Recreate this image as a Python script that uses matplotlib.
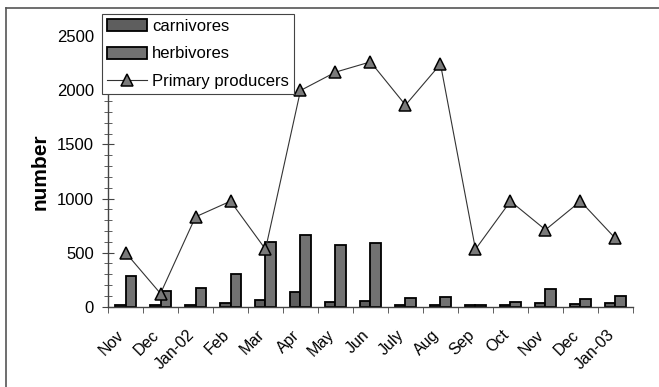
import matplotlib
matplotlib.use("Agg")
import matplotlib.pyplot as plt
from matplotlib.lines import Line2D
from matplotlib.transforms import ScaledTranslation
import numpy as np

plt.rcParams['font.family'] = ['Liberation Sans', 'DejaVu Sans']

months = ["Nov", "Dec", "Jan-02", "Feb", "Mar", "Apr", "May", "Jun", "July",
          "Aug", "Sep", "Oct", "Nov", "Dec", "Jan-03"]
carnivores = [10, 10, 10, 35, 60, 130, 40, 50, 10, 15, 12, 12, 30, 25, 35]
herbivores = [280, 145, 170, 300, 600, 660, 570, 590, 75, 90, 12, 45, 160, 70, 95]
primary_producers = [500, 120, 830, 975, 530, 2000, 2170, 2265, 1865, 2245,
                     530, 975, 710, 975, 630]

fig = plt.figure(figsize=(6.59, 3.87), dpi=100)
ax = fig.add_axes([0.1639, 0.208, 0.7966, 0.6977])

x = np.arange(len(months))
w = 0.3
bar_kw = dict(width=w, edgecolor="black", linewidth=1.3, zorder=2)
b1 = ax.bar(x - w / 2, carnivores, color="#5e5e5e", label="carnivores", **bar_kw)
b2 = ax.bar(x + w / 2, herbivores, color="#727272", label="herbivores", **bar_kw)
ln, = ax.plot(x, primary_producers, color="#333333", linewidth=0.8, marker="^",
              markersize=8, markerfacecolor="#7a7a7a", markeredgecolor="black",
              markeredgewidth=1.1, label="Primary producers", zorder=3)

ax.set_xlim(-0.5, len(months) - 0.5)
ax.set_ylim(0, 2500)

for s in ("top", "right"):
    ax.spines[s].set_visible(False)
for s in ("left", "bottom"):
    ax.spines[s].set_color("#444444")
    ax.spines[s].set_linewidth(1.0)

ax.set_yticks(np.arange(0, 2501, 500))
ax.set_yticks(np.arange(0, 2501, 100), minor=True)
ax.tick_params(axis="y", which="major", direction="inout", length=8,
               labelsize=12, pad=6, color="#444444")
ax.tick_params(axis="y", which="minor", direction="inout", length=6,
               color="#444444")

ax.set_xticks(x)
ax.set_xticklabels(months, rotation=45, ha="right", va="top",
                   rotation_mode="anchor")
ax.set_xticks(np.arange(-0.5, len(months), 1), minor=True)
ax.tick_params(axis="x", which="major", length=0, labelsize=11.5, pad=15)
ax.tick_params(axis="x", which="minor", direction="out", length=4,
               color="#444444")
for lbl in ax.get_xticklabels():
    lbl.set_transform(lbl.get_transform() +
                      ScaledTranslation(-6.5 / 72, 0, fig.dpi_scale_trans))

ax.set_ylabel("number", fontsize=15, fontweight="bold", labelpad=5)

leg = ax.legend(handles=[b1, b2, ln], loc="upper left",
                bbox_to_anchor=(102 / 659, 1 - 14 / 387),
                bbox_transform=fig.transFigure, fontsize=12, frameon=True,
                fancybox=False, edgecolor="#444444", framealpha=1,
                borderpad=0.3, labelspacing=0.75, handlelength=2.4,
                handleheight=0.7, handletextpad=0.3, borderaxespad=0)
leg.get_frame().set_linewidth(0.8)
leg.set_zorder(5)

# outer chart border (top and left edges)
fig.add_artist(Line2D([6 / 659, 1], [1 - 8 / 387, 1 - 8 / 387],
                      transform=fig.transFigure, color="#555555", linewidth=1.2))
fig.add_artist(Line2D([6 / 659, 6 / 659], [0, 1 - 8 / 387],
                      transform=fig.transFigure, color="#555555", linewidth=1.2))

fig.savefig("out.png", dpi=100)
